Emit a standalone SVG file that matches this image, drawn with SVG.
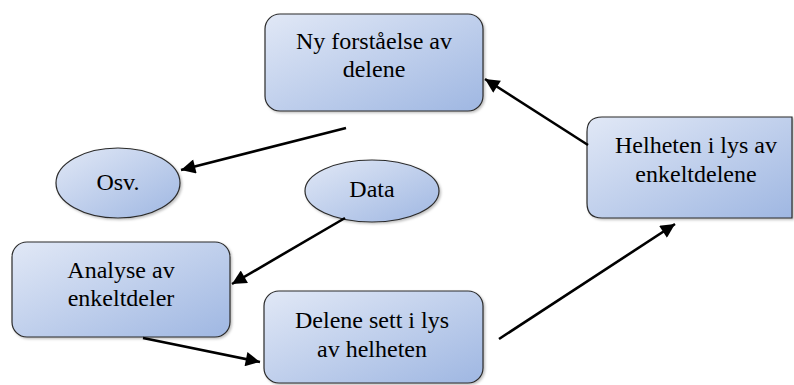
<svg xmlns="http://www.w3.org/2000/svg" width="794" height="385" viewBox="0 0 794 385">
  <defs>
    <linearGradient id="fill" x1="0" y1="0" x2="1" y2="1">
      <stop offset="0" stop-color="#e1e8f6"/>
      <stop offset="1" stop-color="#9fb7e2"/>
    </linearGradient>
    <marker id="head" viewBox="0 0 10 10" refX="10" refY="5" markerWidth="6.5" markerHeight="5.5" markerUnits="strokeWidth" orient="auto">
      <path d="M0,0 L10,5 L0,10 z" fill="#000"/>
    </marker>
    <filter id="shadow" x="-10%" y="-10%" width="125%" height="125%">
      <feDropShadow dx="1.5" dy="1.5" stdDeviation="1" flood-color="#000" flood-opacity="0.25"/>
    </filter>
  </defs>
  <style>
    .shape { fill: url(#fill); stroke: #2b2b2b; stroke-width: 1.2; filter: url(#shadow); }
    .label { font-family: "Liberation Serif", "Times New Roman", serif; font-size: 24px; fill: #000; text-anchor: middle; }
    .edge { stroke: #000; stroke-width: 2.6; fill: none; marker-end: url(#head); }
  </style>
  <rect width="794" height="385" fill="#fff"/>

  <g id="ny-forstaaelse">
    <rect class="shape" x="265" y="14" width="218" height="97" rx="15"/>
    <text class="label" x="374" y="49">Ny forståelse av</text>
    <text class="label" x="374" y="77">delene</text>
  </g>

  <g id="helheten">
    <!-- right side runs to the page edge, so its corners stay square -->
    <path class="shape" d="M602,117 H792 V218 H602 Q587,218 587,203 V132 Q587,117 602,117 Z"/>
    <text class="label" x="696" y="153">Helheten i lys av</text>
    <text class="label" x="696" y="182">enkeltdelene</text>
  </g>

  <g id="osv">
    <ellipse class="shape" cx="118" cy="183" rx="62" ry="35"/>
    <text class="label" x="118" y="190">Osv.</text>
  </g>

  <g id="data">
    <ellipse class="shape" cx="372" cy="191" rx="67" ry="31"/>
    <text class="label" x="372" y="197">Data</text>
  </g>

  <g id="analyse">
    <rect class="shape" x="12" y="242" width="218" height="95" rx="15"/>
    <text class="label" x="121" y="278">Analyse av</text>
    <text class="label" x="121" y="306">enkeltdeler</text>
  </g>

  <g id="delene">
    <rect class="shape" x="264" y="291" width="219" height="92" rx="15"/>
    <text class="label" x="372" y="328">Delene sett i lys</text>
    <text class="label" x="372" y="357">av helheten</text>
  </g>

  <g id="connectors">
    <line class="edge" x1="346" y1="128" x2="181" y2="170"/>
    <line class="edge" x1="345" y1="218" x2="232" y2="284"/>
    <line class="edge" x1="143" y1="338" x2="260" y2="362"/>
    <line class="edge" x1="499" y1="339" x2="675" y2="224"/>
    <line class="edge" x1="588" y1="145" x2="485" y2="79"/>
  </g>
</svg>
